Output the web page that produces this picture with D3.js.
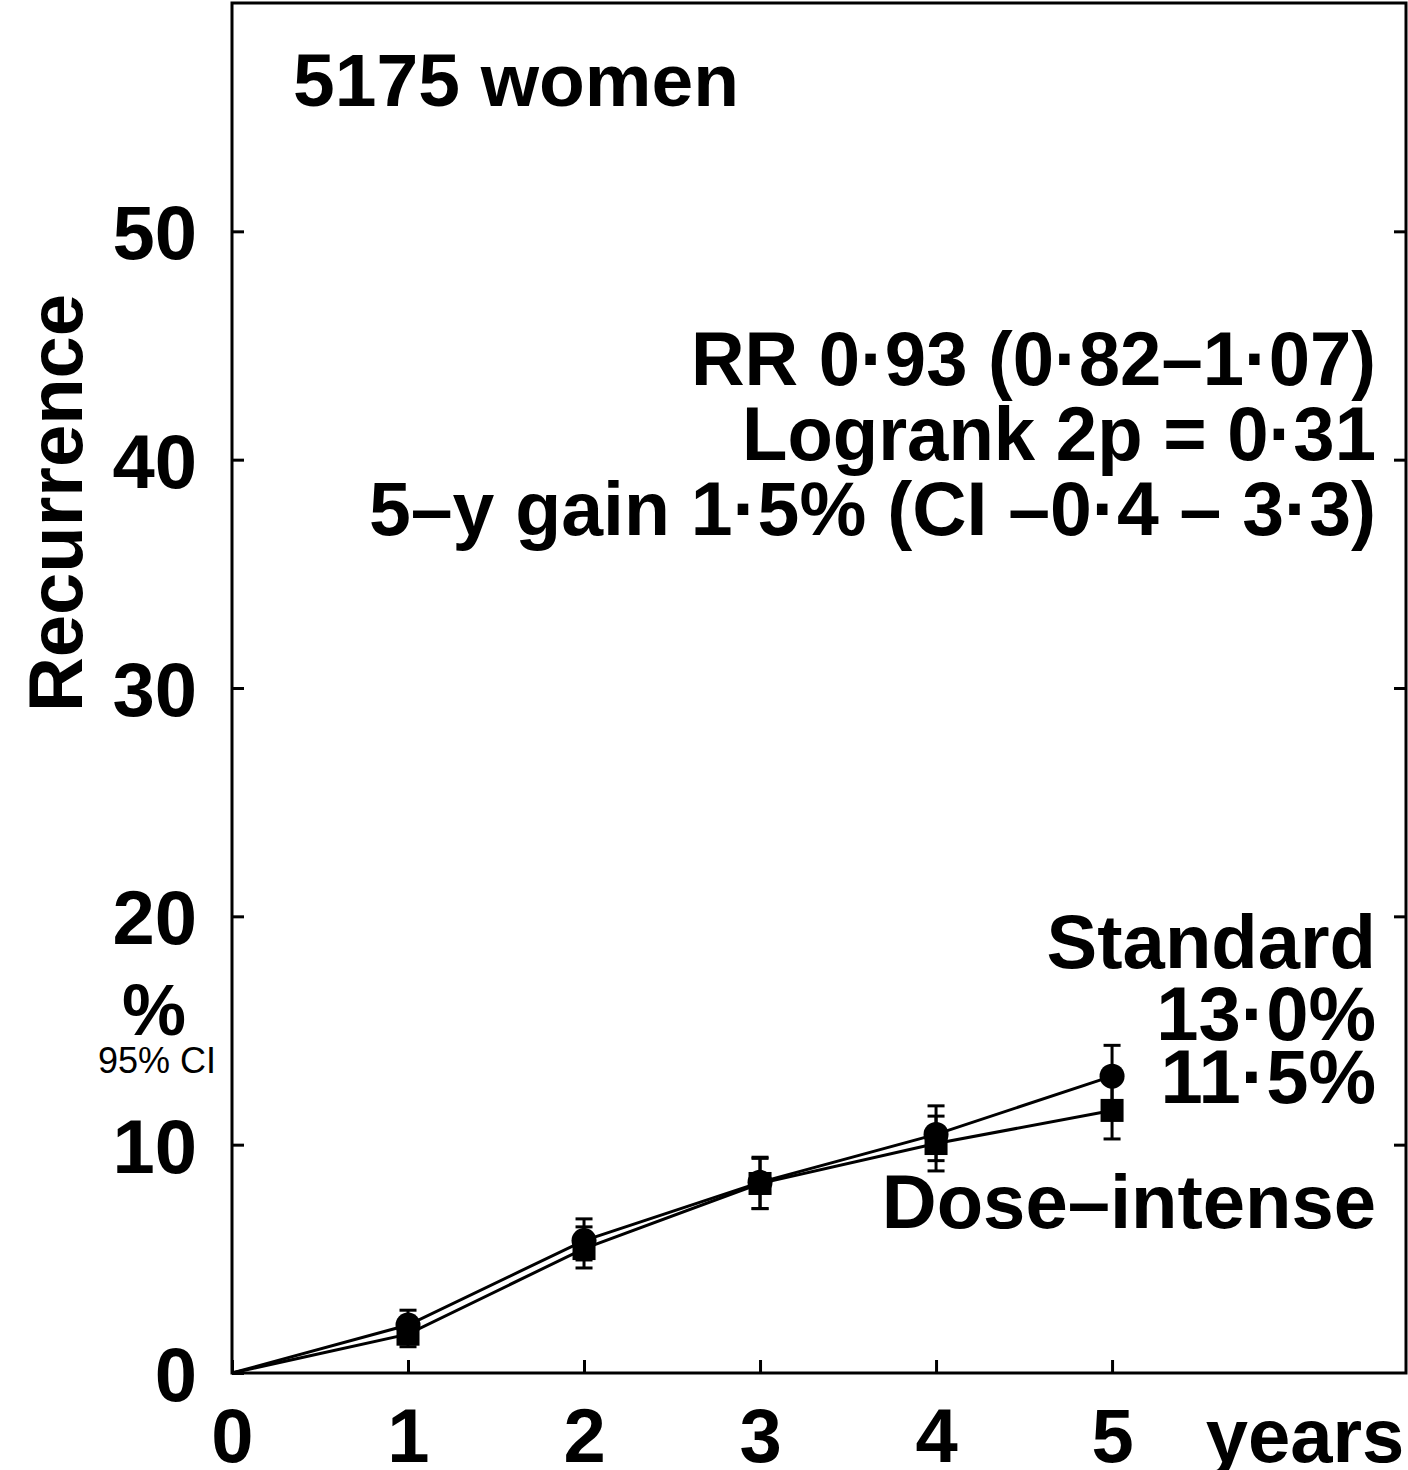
<!DOCTYPE html>
<html>
<head>
<meta charset="utf-8">
<script src="https://cdn.jsdelivr.net/npm/d3@7"></script>
<style>
  body { margin: 0; background: #fff; }
  text { font-family: "Liberation Sans", Arial, sans-serif; fill: #000; }
</style>
</head>
<body>
<script>
// recurrence by year, %
let years = [0, 1, 2, 3, 4, 5]
let standard = [0, 2.1, 5.8, 8.35, 10.45, 13.0]
let standardLo = [null, 1.4, 4.95, 7.2, 9.3, 11.6]
let standardHi = [null, 2.75, 6.75, 9.45, 11.7, 14.35]
let doseIntense = [0, 1.7, 5.45, 8.3, 10.05, 11.5]
let doseLo = [null, 1.15, 4.6, 7.2, 8.85, 10.25]
let doseHi = [null, 2.35, 6.4, 9.4, 11.25, 12.75]
let xTicks = [0, 1, 2, 3, 4, 5]
let yTicks = [0, 10, 20, 30, 40, 50]
let statLines = ["RR 0·93 (0·82–1·07)", "Logrank 2p = 0·31", "5–y gain 1·5% (CI –0·4 – 3·3)"]

let W = 1408, H = 1470
let svg = d3.select("body").append("svg").attr("width", W).attr("height", H)

let x = d3.scaleLinear().domain([0, 6.67]).range([232, 1406])
let y = d3.scaleLinear().domain([0, 60]).range([1373, 3])

let big = 76 // font size of the bold labels

// frame
svg.append("rect")
   .attr("x", x(0)).attr("y", y(60))
   .attr("width", x(6.67) - x(0)).attr("height", y(0) - y(60))
   .attr("fill", "none").attr("stroke", "#000").attr("stroke-width", 3)

// axes, ticks pointing inward
let xAxis = svg.append("g").attr("transform", "translate(0," + y(0) + ")")
   .call(d3.axisBottom(x).tickValues(xTicks).tickSize(-13).tickPadding(35).tickFormat(d3.format("d")))
let yAxis = svg.append("g").attr("transform", "translate(" + x(0) + ",0)")
   .call(d3.axisLeft(y).tickValues(yTicks).tickSize(-12).tickPadding(35).tickFormat(d3.format("d")))
let rAxis = svg.append("g").attr("transform", "translate(" + x(6.67) + ",0)")
   .call(d3.axisRight(y).tickValues(yTicks.slice(1)).tickSize(-12).tickFormat(""))

for (let g of [xAxis, yAxis, rAxis]) {
  g.select(".domain").remove()
  g.selectAll(".tick line").attr("stroke", "#000").attr("stroke-width", 3)
  g.selectAll(".tick text")
   .attr("font-family", "Liberation Sans, Arial, sans-serif")
   .attr("font-size", big).attr("font-weight", "bold").attr("fill", "#000")
}
yAxis.selectAll(".tick text").attr("dy", "0.36em")

// lines
let line = d3.line().x((d, i) => x(years[i])).y(d => y(d))
for (let s of [standard, doseIntense]) {
  svg.append("path").datum(s).attr("d", line)
     .attr("fill", "none").attr("stroke", "#000").attr("stroke-width", 3)
}

// error bars (95% CI)
function errorBars(lo, hi) {
  let idx = years.map((d, i) => i).filter(i => lo[i] != null)
  let g = svg.append("g").attr("stroke", "#000").attr("stroke-width", 3)
  g.selectAll("line.bar").data(idx).enter().append("line")
   .attr("x1", i => x(years[i])).attr("x2", i => x(years[i]))
   .attr("y1", i => y(lo[i])).attr("y2", i => y(hi[i]))
  for (let arr of [lo, hi]) {
    g.selectAll(null).data(idx).enter().append("line")
     .attr("x1", i => x(years[i]) - 8.5).attr("x2", i => x(years[i]) + 8.5)
     .attr("y1", i => y(arr[i])).attr("y2", i => y(arr[i]))
  }
}
errorBars(standardLo, standardHi)
errorBars(doseLo, doseHi)

// markers
let pts = years.map((d, i) => i).filter(i => i > 0)
svg.append("g").selectAll("circle").data(pts).enter().append("circle")
   .attr("cx", i => x(years[i])).attr("cy", i => y(standard[i])).attr("r", 12.5).attr("fill", "#000")
svg.append("g").selectAll("rect").data(pts).enter().append("rect")
   .attr("x", i => x(years[i]) - 11.5).attr("y", i => y(doseIntense[i]) - 11.5)
   .attr("width", 23).attr("height", 23).attr("fill", "#000")

// labels
function label(t, px, py, anchor, size, weight) {
  return svg.append("text").attr("x", px).attr("y", py)
     .attr("text-anchor", anchor).attr("font-size", size)
     .attr("font-weight", weight || "bold").text(t)
}

label("5175 women", 293, 106, "start", 75)
let statWidths = [685, 634, 1007] // the stats are set a bit narrow in the original
statLines.forEach((t, i) => label(t, 1376, 385 + i * 75, "end", big)
  .attr("textLength", statWidths[i]).attr("lengthAdjust", "spacingAndGlyphs"))
label("Standard", 1376, 968, "end", big)
label(d3.format(".1f")(standard[5]).replace(".", "·") + "%", 1376, 1040, "end", big)
label(d3.format(".1f")(doseIntense[5]).replace(".", "·") + "%", 1376, 1103, "end", big)
label("Dose–intense", 1376, 1228, "end", big)

label("years", 1305, 1462, "middle", big)
label("%", 154, 1035, "middle", 72)
label("95% CI", 157, 1073, "middle", 36, "normal")

svg.append("text")
   .attr("transform", "translate(82,503) rotate(-90)")
   .attr("text-anchor", "middle").attr("font-size", big).attr("font-weight", "bold")
   .text("Recurrence")
</script>
</body>
</html>
